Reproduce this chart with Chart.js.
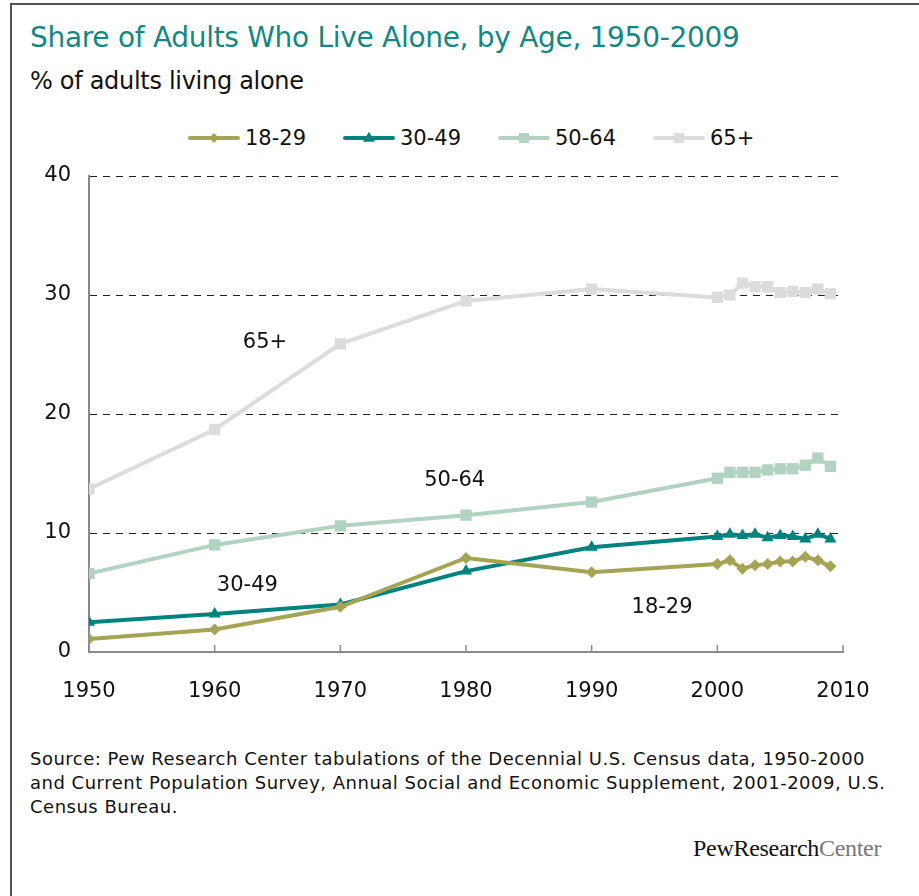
<!DOCTYPE html>
<html>
<head>
<meta charset="utf-8">
<title>Share of Adults Who Live Alone, by Age, 1950-2009</title>
<script src="https://cdn.jsdelivr.net/npm/chart.js@4.4.1/dist/chart.umd.min.js"></script>
<style>
  html, body { margin: 0; padding: 0; background: #fff; width: 919px; height: 896px; overflow: hidden; }
  body { position: relative; font-family: "DejaVu Sans", sans-serif; color: #111; }
  #frame { position: absolute; left: 10px; top: 3px; width: 980px; height: 980px;
           border-left: 2px solid #555; border-top: 2px solid #555; }
  #title { position: absolute; left: 30px; top: 21px; font-size: 28px; color: #138882;
           letter-spacing: -0.3px; white-space: nowrap; }
  #subtitle { position: absolute; left: 30px; top: 67px; font-size: 24px; letter-spacing: -0.3px; white-space: nowrap; }
  #legend { position: absolute; left: 188px; top: 126px; display: flex; font-size: 21px; }
  .item { width: 155px; display: flex; align-items: center; white-space: nowrap; }
  .swatch { position: relative; width: 52px; height: 4px; margin-right: 5px; border-radius: 2px; }
  .mk { position: absolute; left: 50%; top: 50%; }
  #chart-wrap { position: absolute; left: 0; top: 150px; width: 919px; height: 560px; }
  #source { position: absolute; left: 30px; top: 747px; width: 868px; font-size: 18px; line-height: 24px;
            letter-spacing: 0.5px; color: #111; }
  #logo { position: absolute; left: 693px; top: 835px; font-family: "Liberation Serif", serif; font-size: 24px;
          letter-spacing: -0.3px; color: #111; white-space: nowrap; }
  #logo span { color: #777; }
</style>
</head>
<body>
<div id="frame"></div>
<div id="title">Share of Adults Who Live Alone, by Age, 1950-2009</div>
<div id="subtitle">% of adults living alone</div>
<div id="legend"></div>
<div id="chart-wrap"><canvas id="chart"></canvas></div>
<div id="source">Source: Pew Research Center tabulations of the Decennial U.S. Census data, 1950-2000 and Current Population Survey, Annual Social and Economic Supplement, 2001-2009, U.S. Census Bureau.</div>
<div id="logo">PewResearch<span>Center</span></div>

<script>
"use strict";

// ─── Data ──────────────────────────────────────────────────────────────────
const YEARS     = [1950, 1960, 1970, 1980, 1990, 2000, 2001, 2002, 2003, 2004, 2005, 2006, 2007, 2008, 2009];
const AGE_18_29 = [1.1, 1.9, 3.8, 7.9, 6.7, 7.4, 7.7, 7.0, 7.3, 7.4, 7.6, 7.6, 8.0, 7.7, 7.2];
const AGE_30_49 = [2.5, 3.2, 4.0, 6.8, 8.8, 9.7, 9.9, 9.8, 9.9, 9.6, 9.8, 9.7, 9.5, 9.9, 9.5];
const AGE_50_64 = [6.6, 9.0, 10.6, 11.5, 12.6, 14.6, 15.1, 15.1, 15.1, 15.3, 15.4, 15.4, 15.7, 16.3, 15.6];
const AGE_65_UP = [13.7, 18.7, 25.9, 29.5, 30.5, 29.8, 30.0, 31.0, 30.7, 30.7, 30.2, 30.3, 30.2, 30.5, 30.1];
const SERIES_NAMES = ["18-29", "30-49", "50-64", "65+"];
const X_TICKS = [1950, 1960, 1970, 1980, 1990, 2000, 2010];
const Y_TICKS = [0, 10, 20, 30, 40];

// ─── Styling ───────────────────────────────────────────────────────────────
const FONT       = "'DejaVu Sans', sans-serif";
const AXIS_GREY  = "#8a8a8a";
const OLIVE      = "#a5a455";
const TEAL       = "#00827e";
const SAGE       = "#b2d3c1";
const PALE       = "#dcdcdc";
const COLOURS    = [OLIVE, TEAL, SAGE, PALE];
const MARKERS    = ["rectRot", "triangle", "rect", "rect"];
const RADII      = [6, 7, 8, 8];

// in-chart series labels, placed in data units
const NOTES = [
  { text: "65+",   year: 1964.0, value: 26.0 },
  { text: "50-64", year: 1979.1, value: 14.4 },
  { text: "30-49", year: 1962.6, value: 5.6 },
  { text: "18-29", year: 1995.6, value: 3.7 },
];

// ─── HTML legend ───────────────────────────────────────────────────────────
const legendEl = document.getElementById("legend");
SERIES_NAMES.forEach((name, i) => {
  const c = COLOURS[i];
  let mk;
  if (MARKERS[i] === "rectRot") {
    mk = `<span class="mk" style="width:7px;height:7px;background:${c};transform:translate(-50%,-50%) rotate(45deg)"></span>`;
  } else if (MARKERS[i] === "triangle") {
    mk = `<span class="mk" style="width:0;height:0;border-left:6px solid transparent;border-right:6px solid transparent;border-bottom:10px solid ${c};transform:translate(-50%,-62%)"></span>`;
  } else {
    mk = `<span class="mk" style="width:10px;height:10px;background:${c};transform:translate(-50%,-50%)"></span>`;
  }
  legendEl.insertAdjacentHTML("beforeend",
    `<div class="item"><span class="swatch" style="background:${c}">${mk}</span>${name}</div>`);
});

// ─── Plugins ───────────────────────────────────────────────────────────────
const innerTicks = {
  id: "innerTicks",
  afterDatasetsDraw(chart) {
    const xs = chart.scales.x, ctx = chart.ctx, base = chart.chartArea.bottom;
    ctx.save();
    ctx.strokeStyle = AXIS_GREY;
    ctx.lineWidth = 1.5;
    X_TICKS.forEach(v => {
      const px = xs.getPixelForValue(v);
      ctx.beginPath();
      ctx.moveTo(px, base);
      ctx.lineTo(px, base - 7);
      ctx.stroke();
    });
    ctx.restore();
  },
};

const seriesNotes = {
  id: "seriesNotes",
  afterDatasetsDraw(chart) {
    const { x, y } = chart.scales, ctx = chart.ctx;
    ctx.save();
    ctx.font = `21px ${FONT}`;
    ctx.fillStyle = "#111";
    ctx.textAlign = "center";
    ctx.textBaseline = "middle";
    NOTES.forEach(n => ctx.fillText(n.text, x.getPixelForValue(n.year), y.getPixelForValue(n.value)));
    ctx.restore();
  },
};

// ─── Chart ─────────────────────────────────────────────────────────────────
const SERIES_VALUES = [AGE_18_29, AGE_30_49, AGE_50_64, AGE_65_UP];

const datasets = SERIES_NAMES.map((name, i) => ({
  label: name,
  data: YEARS.map((yr, k) => ({ x: yr, y: SERIES_VALUES[i][k] })),
  borderColor: COLOURS[i],
  backgroundColor: COLOURS[i],
  borderWidth: 4,
  pointStyle: MARKERS[i],
  pointRadius: RADII[i],
  pointBorderWidth: 0,
  tension: 0,
  order: i,
}));

new Chart(document.getElementById("chart"), {
  type: "line",
  data: { datasets },
  plugins: [innerTicks, seriesNotes],
  options: {
    responsive: true,
    maintainAspectRatio: false,
    animation: false,
    layout: { padding: { top: 26, right: 76, left: 0, bottom: 0 } },
    plugins: { legend: { display: false }, tooltip: { enabled: false } },
    scales: {
      x: {
        type: "linear",
        min: X_TICKS[0],
        max: X_TICKS[X_TICKS.length - 1],
        afterBuildTicks: s => { s.ticks = X_TICKS.map(v => ({ value: v })); },
        afterFit: s => { s.height = 58; s.paddingLeft = 0; s.paddingRight = 0; },
        grid: { display: true, drawOnChartArea: false, drawTicks: false },
        border: { display: true, color: AXIS_GREY, width: 2 },
        ticks: {
          padding: 27,
          color: "#111",
          font: { family: FONT, size: 21 },
          callback: v => String(v),
          maxRotation: 0,
        },
      },
      y: {
        min: Y_TICKS[0],
        max: Y_TICKS[Y_TICKS.length - 1],
        afterBuildTicks: s => { s.ticks = Y_TICKS.map(v => ({ value: v })); },
        afterFit: s => { s.width = 89; s.paddingTop = 0; s.paddingBottom = 0; },
        grid: {
          drawTicks: false,
          color: ctx => (ctx.tick && ctx.tick.value === 0 ? "rgba(0,0,0,0)" : "#222"),
          lineWidth: 1,
        },
        border: { display: true, color: AXIS_GREY, width: 2, dash: [7, 6] },
        ticks: {
          padding: 18,
          color: "#111",
          font: { family: FONT, size: 21 },
        },
      },
    },
  },
});
</script>
</body>
</html>
